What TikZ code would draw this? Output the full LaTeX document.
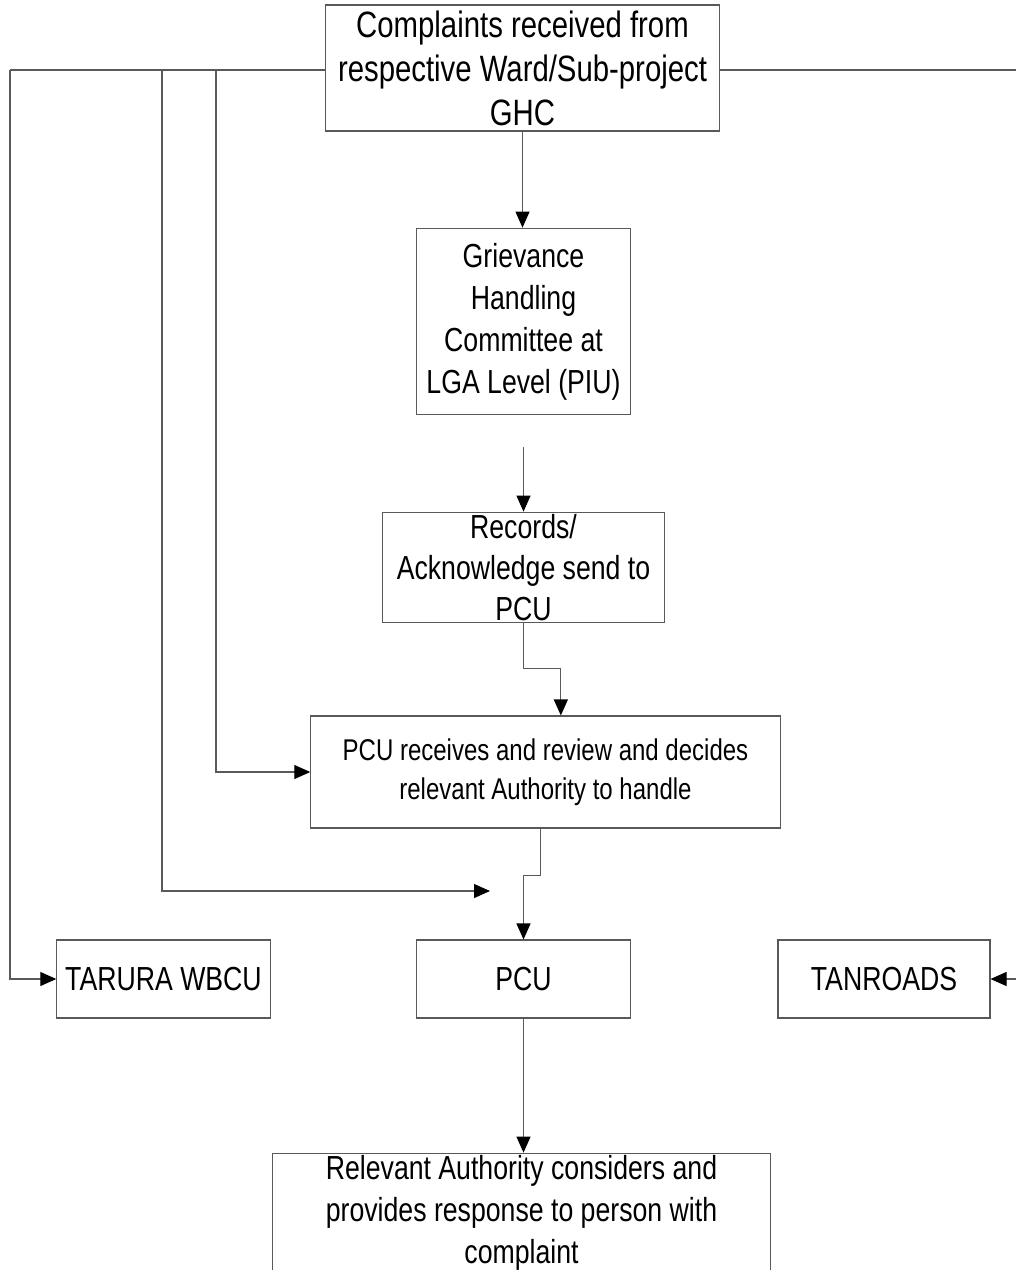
\documentclass[tikz,border=0pt]{standalone}
\usepackage{fontspec}
\setmainfont{Liberation Sans}[FakeStretch=0.8]
\usetikzlibrary{arrows.meta}

\begin{document}
\begin{tikzpicture}[x=0.75pt, y=-0.75pt,
    box/.style={draw=black!65, line width=0.8pt, align=center, inner sep=0pt, font=\fontsize{25}{31.5}\selectfont},
    link/.style={draw=black!65, line width=0.8pt},
    arr/.style={link, -{Triangle[length=12pt,width=10.5pt,color=black]}}]
    \useasboundingbox (0,0) rectangle (1016,1270);
    % boxes
    \node[box, minimum width=296pt, minimum height=94.5pt, font=\fontsize{27.5}{33}\selectfont] (ghc) at (522.5,68) {Complaints received from\\respective Ward/Sub-project\\GHC};
    \node[box, minimum width=160pt, minimum height=140pt] (piu) at (523.5,321.5) {Grievance\\Handling\\Committee at\\LGA Level (PIU)};
    \node[box, minimum width=211pt, minimum height=83pt, font=\fontsize{25}{31}\selectfont] (records) at (523.5,567.5) {Records/\\Acknowledge send to\\PCU};
    \node[box, minimum width=352pt, minimum height=84pt, font=\fontsize{22.5}{29}\selectfont] (review) at (545.5,772) {PCU receives and review and decides\\relevant Authority to handle};
    \node[box, minimum width=160pt, minimum height=58.5pt] (tarura) at (163.5,979) {TARURA WBCU};
    \node[box, minimum width=160pt, minimum height=58.5pt] (pcu) at (523.5,979) {PCU};
    \node[box, minimum width=159pt, minimum height=58.5pt] (tanroads) at (884,979) {TANROADS};
    \node[box, minimum width=374pt, minimum height=89pt] (response) at (521.5,1212.5) {Relevant Authority considers and\\provides response to person with\\complaint};
    % branch points
    \coordinate (left) at (10,70);
    \coordinate (right) at (1030,70);
    \coordinate (b1) at (162,70);
    \coordinate (b2) at (216,70);
    \coordinate (free) at (490,891);
    % connectors
    \draw[link] (ghc.west |- left) -- (left);
    \draw[arr] (left) |- (tarura.west);
    \draw[link] (ghc.east |- right) -- (right);
    \draw[arr] (right) |- (tanroads.east);
    \draw[arr] (b1) |- (free);
    \draw[arr] (b2) |- (review.west);
    \draw[arr] (ghc.south) -- (ghc.south |- piu.north);
    \draw[arr] ([yshift=-24pt]piu.south) -- (records.north);
    \draw[arr] (records.south) -- ++(0,45) -| ([xshift=11.5pt]review.north);
    \draw[arr] ([xshift=-4pt]review.south) -- ++(0,47) -| (pcu.north);
    \draw[arr] (pcu.south) -- (pcu.south |- response.north);
\end{tikzpicture}
\end{document}
